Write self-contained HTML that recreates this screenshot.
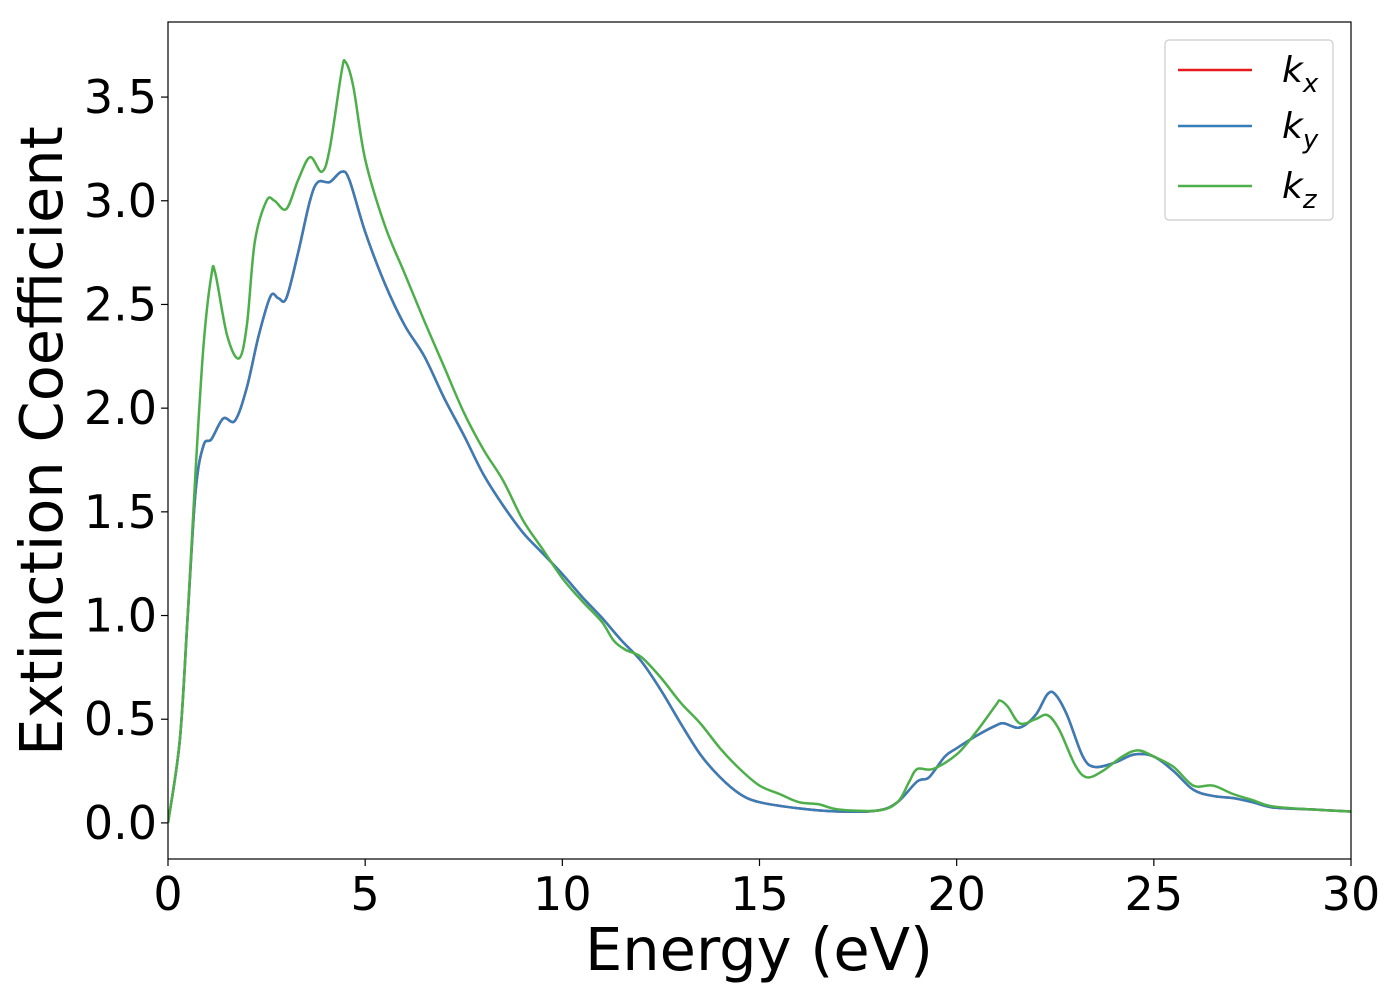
<!DOCTYPE html>
<html><head><meta charset="utf-8"><style>body{margin:0;background:#fff}svg{display:block;font-family:"DejaVu Sans","Liberation Sans",sans-serif}</style></head>
<body>
<svg id="c" width="1400" height="1000"></svg>
<script>
const xTicks=[0,5,10,15,20,25,30];
const yTicks=[0.0,0.5,1.0,1.5,2.0,2.5,3.0,3.5];
const xTickLabels=["0","5","10","15","20","25","30"];
const yTickLabels=["0.0","0.5","1.0","1.5","2.0","2.5","3.0","3.5"];
const energyXY=[0,0.3,0.5,0.7,0.9,1.1,1.4,1.7,2.0,2.3,2.6,2.8,3.0,3.3,3.6,3.8,4.1,4.4,4.6,5,5.5,6,6.5,7,7.5,8,8.5,9,9.5,10,10.5,11,11.5,12,12.5,13,13.5,14,14.5,15,16,17,18,18.5,19,19.3,19.7,20,20.5,21,21.2,21.6,22,22.3,22.5,22.8,23.2,23.5,24,24.5,25,25.5,26,26.5,27,27.5,28,29,30];
const kxy=[0,0.4,1.0,1.6,1.82,1.85,1.95,1.94,2.1,2.35,2.54,2.53,2.53,2.75,3.0,3.09,3.09,3.14,3.1,2.85,2.6,2.4,2.25,2.05,1.87,1.68,1.53,1.4,1.3,1.2,1.09,0.99,0.88,0.78,0.64,0.48,0.33,0.22,0.14,0.1,0.07,0.055,0.06,0.1,0.2,0.22,0.32,0.36,0.42,0.47,0.48,0.46,0.52,0.62,0.62,0.52,0.32,0.27,0.29,0.33,0.32,0.25,0.16,0.13,0.12,0.1,0.075,0.065,0.055];
const energyZ=[0,0.3,0.5,0.7,0.9,1.1,1.2,1.5,1.8,2.0,2.2,2.5,2.7,3.0,3.3,3.6,3.9,4.1,4.4,4.5,4.7,5,5.5,6,6.5,7,7.5,8,8.5,9,9.5,10,10.5,11,11.3,11.6,12,12.5,13,13.5,14,14.5,15,15.5,16,16.5,17,18,18.5,18.8,19,19.4,20,20.5,21,21.1,21.3,21.6,22,22.3,22.6,23,23.3,23.7,24.2,24.6,25,25.5,26,26.5,27,27.5,28,29,30];
const kz=[0,0.4,1.0,1.7,2.3,2.64,2.65,2.35,2.24,2.4,2.8,3.0,3.0,2.96,3.1,3.21,3.14,3.25,3.62,3.67,3.55,3.2,2.88,2.65,2.42,2.2,1.98,1.8,1.65,1.46,1.32,1.18,1.07,0.97,0.88,0.835,0.8,0.7,0.58,0.48,0.36,0.26,0.18,0.14,0.1,0.09,0.065,0.06,0.1,0.2,0.26,0.26,0.33,0.44,0.57,0.59,0.56,0.48,0.5,0.52,0.45,0.28,0.22,0.25,0.32,0.35,0.32,0.27,0.18,0.18,0.14,0.11,0.08,0.065,0.055];
const L=168,R=1351,T=22,B=859,ymin=-0.174,ymax=3.862;
const X=v=>L+(v-0)/30*(R-L), Y=v=>B-(v-ymin)/(ymax-ymin)*(B-T);
const svg=document.getElementById('c'),NS="http://www.w3.org/2000/svg";
function mk(t,a,p){const e=document.createElementNS(NS,t);for(const k in a)e.setAttribute(k,a[k]);(p||svg).appendChild(e);return e;}
function pathOf(xs,ys){const P=xs.map((x,i)=>[X(x),Y(ys[i])]);let d="M"+P[0][0]+","+P[0][1];
for(let i=0;i<P.length-1;i++){const p0=P[Math.max(0,i-1)],p1=P[i],p2=P[i+1],p3=P[Math.min(P.length-1,i+2)];
d+=" C"+(p1[0]+(p2[0]-p0[0])/6)+","+(p1[1]+(p2[1]-p0[1])/6)+" "+(p2[0]-(p3[0]-p1[0])/6)+","+(p2[1]-(p3[1]-p1[1])/6)+" "+p2[0]+","+p2[1];}return d;}
const clip=mk('clipPath',{id:'pc'});mk('rect',{x:L,y:T,width:R-L,height:B-T},clip);
const g=mk('g',{'clip-path':'url(#pc)'});
let e;
e=mk('path',{d:pathOf(energyXY,kxy),fill:'none',stroke:'#e41a1c','stroke-width':2.5},g);
e=mk('path',{d:pathOf(energyXY,kxy),fill:'none',stroke:'#377eb8','stroke-width':2.5},g);
e=mk('path',{d:pathOf(energyZ,kz),fill:'none',stroke:'#4daf4a','stroke-width':2.5},g);
e=mk('rect',{x:L,y:T,width:R-L,height:B-T,fill:'none',stroke:'#000','stroke-width':1.2});
xTicks.forEach((v,i)=>{mk('line',{x1:X(v),x2:X(v),y1:B,y2:B+7,stroke:'#000','stroke-width':1.2});
const t=mk('text',{x:X(v),y:910,'text-anchor':'middle','font-size':46});t.textContent=xTickLabels[i];});
yTicks.forEach((v,i)=>{mk('line',{x1:L-7,x2:L,y1:Y(v),y2:Y(v),stroke:'#000','stroke-width':1.2});
const t=mk('text',{x:157,y:Y(v)+16,'text-anchor':'end','font-size':46});t.textContent=yTickLabels[i];});
e=mk('text',{x:759,y:970,'text-anchor':'middle','font-size':59});e.textContent="Energy (eV)";
e=mk('text',{x:0,y:0,'text-anchor':'middle','font-size':59,transform:'translate(62,441) rotate(-90)'});e.textContent="Extinction Coefficient";
const lg=mk('g',{});
mk('rect',{x:1165,y:40,width:168,height:180,rx:4,fill:'#fff',stroke:'#ccc','stroke-width':1.2},lg);
[['#e41a1c','x',70],['#377eb8','y',126],['#4daf4a','z',186]].forEach(([c,s,y])=>{
mk('line',{x1:1178,x2:1252,y1:y,y2:y,stroke:c,'stroke-width':2.5},lg);
const t=mk('text',{x:1282,y:y+12,'font-size':36,'font-style':'italic'},lg);
t.innerHTML='k<tspan font-size="26" dy="10">'+s+'</tspan>';});
</script>
</body></html>
